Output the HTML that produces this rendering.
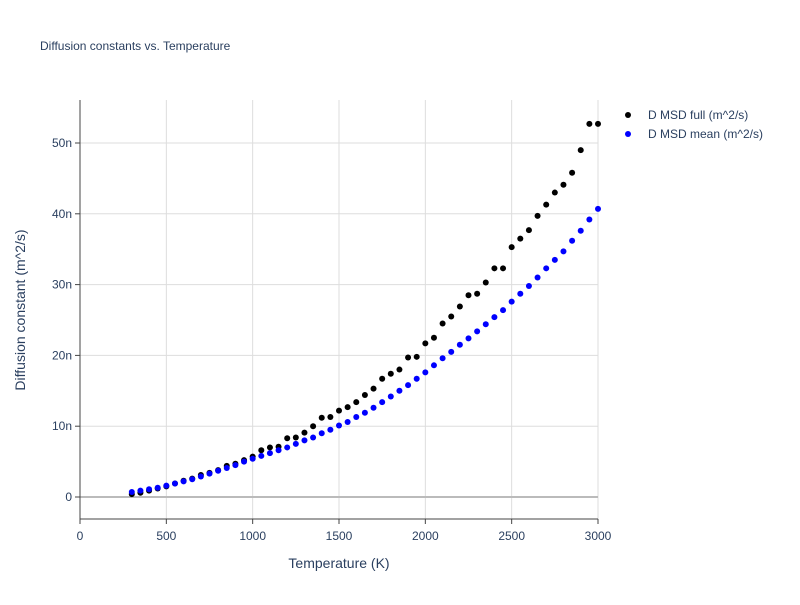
<!DOCTYPE html>
<html><head><meta charset="utf-8"><style>
body{margin:0;background:#fff;font-family:"Liberation Sans",sans-serif}
svg text{font-family:"Liberation Sans",sans-serif}
</style></head><body>
<svg id="chart" width="800" height="600">
<text x="40" y="50" font-size="12" fill="#2a3f5f">Diffusion constants vs. Temperature</text>
<g id="grid"></g><g id="axes"></g><g id="marks"></g>
<text x="339" y="568" font-size="14" fill="#2a3f5f" text-anchor="middle">Temperature (K)</text>
<text transform="translate(25,310) rotate(-90)" font-size="14" fill="#2a3f5f" text-anchor="middle">Diffusion constant (m^2/s)</text>
<g><circle cx="628" cy="115" r="3" fill="#000"/><text x="648" y="119" font-size="12" fill="#2a3f5f">D MSD full (m^2/s)</text></g>
<g><circle cx="628" cy="134" r="3" fill="#0000ff"/><text x="648" y="138" font-size="12" fill="#2a3f5f">D MSD mean (m^2/s)</text></g>
</svg>
<script>
const temps=[300,350,400,450,500,550,600,650,700,750,800,850,900,950,1000,1050,1100,1150,1200,1250,1300,1350,1400,1450,1500,1550,1600,1650,1700,1750,1800,1850,1900,1950,2000,2050,2100,2150,2200,2250,2300,2350,2400,2450,2500,2550,2600,2650,2700,2750,2800,2850,2900,2950,3000];
const fullVals=[0.4,0.6,0.9,1.2,1.5,1.9,2.3,2.6,3.1,3.4,3.8,4.4,4.7,5.2,5.7,6.6,7.0,7.1,8.3,8.4,9.1,10.0,11.2,11.3,12.2,12.7,13.4,14.4,15.3,16.7,17.4,18.0,19.7,19.8,21.7,22.5,24.5,25.5,26.9,28.5,28.7,30.3,32.3,32.3,35.3,36.5,37.7,39.7,41.3,43.0,44.1,45.8,49.0,52.7,52.7];
const meanVals=[0.7,0.9,1.1,1.3,1.6,1.9,2.2,2.5,2.9,3.3,3.7,4.1,4.5,5.0,5.4,5.8,6.2,6.6,7.0,7.5,8.0,8.4,9.0,9.5,10.1,10.6,11.3,11.9,12.6,13.4,14.2,15.0,15.8,16.7,17.6,18.6,19.6,20.5,21.5,22.4,23.4,24.4,25.4,26.4,27.6,28.7,29.8,31.0,32.3,33.5,34.7,36.2,37.6,39.2,40.7];
const xTicks=[0,500,1000,1500,2000,2500,3000];
const yTicks=[0,10,20,30,40,50];
const yTickLabels=["0","10n","20n","30n","40n","50n"];
const L=80,R=598,T=100,B=519;
const xs=v=>L+(v-0)/3000*(R-L);
const ys=v=>497-v*7.08;
const NS="http://www.w3.org/2000/svg";
function mk(tag,attrs,parent,text){const e=document.createElementNS(NS,tag);for(const k in attrs)e.setAttribute(k,attrs[k]);if(text!=null)e.textContent=text;document.getElementById(parent).appendChild(e);return e;}
xTicks.forEach(t=>{
 const g=mk('line',{x1:xs(t),x2:xs(t),y1:T,y2:B,stroke:t===0?'#444':'#ddd','stroke-width':1},'grid');
 
 
 const tk=mk('line',{x1:xs(t),x2:xs(t),y1:B,y2:B+5,stroke:'#444'},'axes');
 
 
 const tl=mk('text',{x:xs(t),y:B+21,'font-size':12,fill:'#2a3f5f','text-anchor':'middle'},'axes',String(t));
 
 
});
yTicks.forEach((t,i)=>{
 const g=mk('line',{x1:L,x2:R,y1:ys(t),y2:ys(t),stroke:t===0?'#bbb':'#ddd','stroke-width':t===0?2:1},'grid');
 
 
 const tk=mk('line',{x1:L-5,x2:L,y1:ys(t),y2:ys(t),stroke:'#444'},'axes');
 
 
 const tl=mk('text',{x:L-8,y:ys(t)+4,'font-size':12,fill:'#2a3f5f','text-anchor':'end'},'axes',yTickLabels[i]);
 
 
});
const xa=mk('line',{x1:L,x2:R,y1:B,y2:B,stroke:'#444'},'axes');


const ya=mk('line',{x1:L,x2:L,y1:T,y2:B,stroke:'#444'},'axes');


temps.forEach((t,i)=>{
 const c=mk('circle',{cx:xs(t),cy:ys(fullVals[i]),r:3,fill:'#000'},'marks');
 
 
});
temps.forEach((t,i)=>{
 const c=mk('circle',{cx:xs(t),cy:ys(meanVals[i]),r:3,fill:'#0000ff'},'marks');
 
 
});
</script>
</body></html>
